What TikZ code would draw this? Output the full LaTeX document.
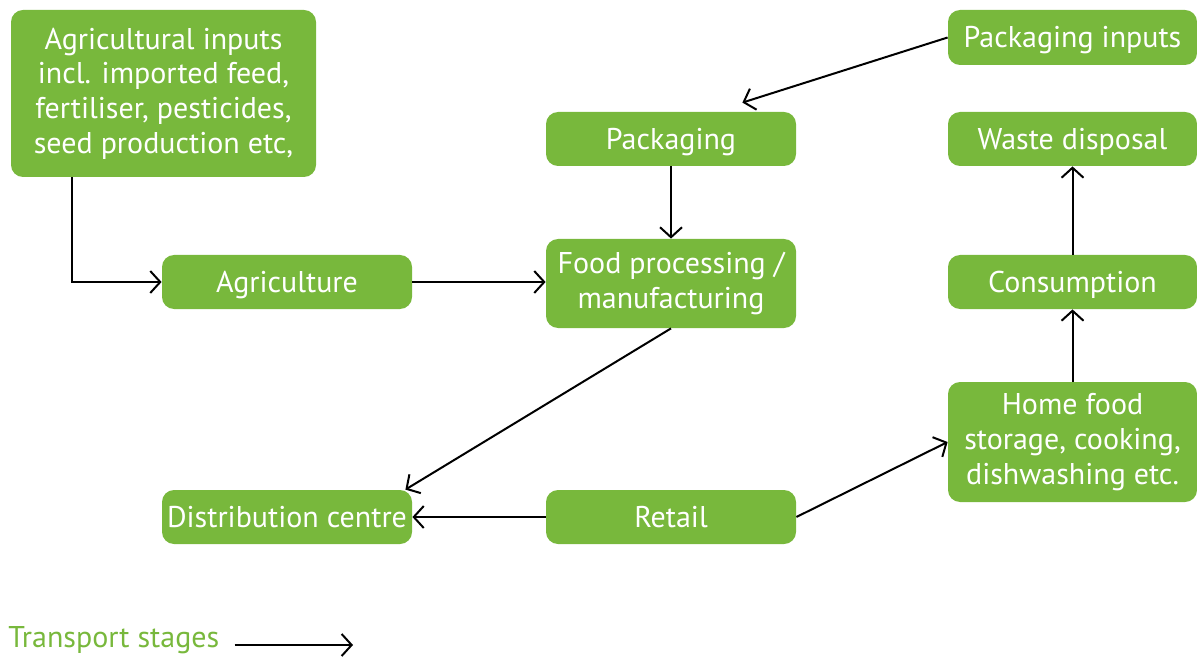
\documentclass[tikz,border=0pt]{standalone}
\usepackage{fontspec}
\setmainfont{PT Sans}
\usetikzlibrary{arrows.meta}
\definecolor{stagegreen}{HTML}{78B83C}
\begin{document}
\begin{tikzpicture}
[x=0.5pt,y=-0.5pt,
  stagedecorate/.style={shape=rectangle,rounded corners=6pt,fill=stagegreen,
    text=white,align=center,inner sep=0pt,font=\fontsize{15}{17.3}\selectfont},
  singleline/.style={text height=10.5pt,text depth=0pt},
  multiline/.style={},
  linedecorate/.style={-{Straight Barb[length=5pt,width=11pt]},line width=1pt}]
\useasboundingbox (0,0) rectangle (1197,657);
%% stages or boxes
\foreach \nodename/\x/\y/\w/\h/\lines/\stagetext in {
  agin/163.5/93.5/305/167/multiline/{Agricultural inputs\\incl. imported feed,\\fertiliser, pesticides,\\seed production etc,},
  agri/287/282/250/54/singleline/{Agriculture},
  pkgin/1072.5/37.5/249/55/singleline/{Packaging inputs},
  pack/671/139/250/54/singleline/{Packaging},
  food/671/283.5/250/89/multiline/{Food processing /\\manufacturing},
  waste/1072.5/139/249/54/singleline/{Waste disposal},
  cons/1072.5/282/249/54/singleline/{Consumption},
  home/1072.5/442/249/120/multiline/{Home food\\storage, cooking,\\dishwashing etc.},
  dist/287/517/250/54/singleline/{Distribution centre},
  retail/671/517/250/54/singleline/{Retail}}
{
  \node (\nodename) at (\x,\y) [stagedecorate,\lines,
    minimum width=\w*0.5pt,minimum height=\h*0.5pt] {\stagetext};
}
%% transport legend
\node (legend) at (8,640) [anchor=west,inner sep=0pt,text=stagegreen,
  font=\fontsize{15}{17.3}\selectfont] {Transport stages};
\coordinate (legendend) at (353,645);
%% transport arrows
\draw [linedecorate] ([xshift=30.5pt]agin.south west) |- (agri.west);
\draw [linedecorate] (agri.east) -- (agri.east -| food.west);
\draw [linedecorate] (pkgin.west) -- ([xshift=-27pt,yshift=4.5pt]pack.north east);
\draw [linedecorate] (pack.south) -- (food.north);
\draw [linedecorate] (food.south) -- ([xshift=-3.5pt]dist.north east);
\draw [linedecorate] (retail.west) -- (dist.east);
\draw [linedecorate] (retail.east) -- (home.west);
\draw [linedecorate] (home.north) -- (cons.south);
\draw [linedecorate] (cons.north) -- (waste.south);
\draw [linedecorate] (legendend -| legend.east) ++(7.5pt,0) -- (legendend);
\end{tikzpicture}
\end{document}
